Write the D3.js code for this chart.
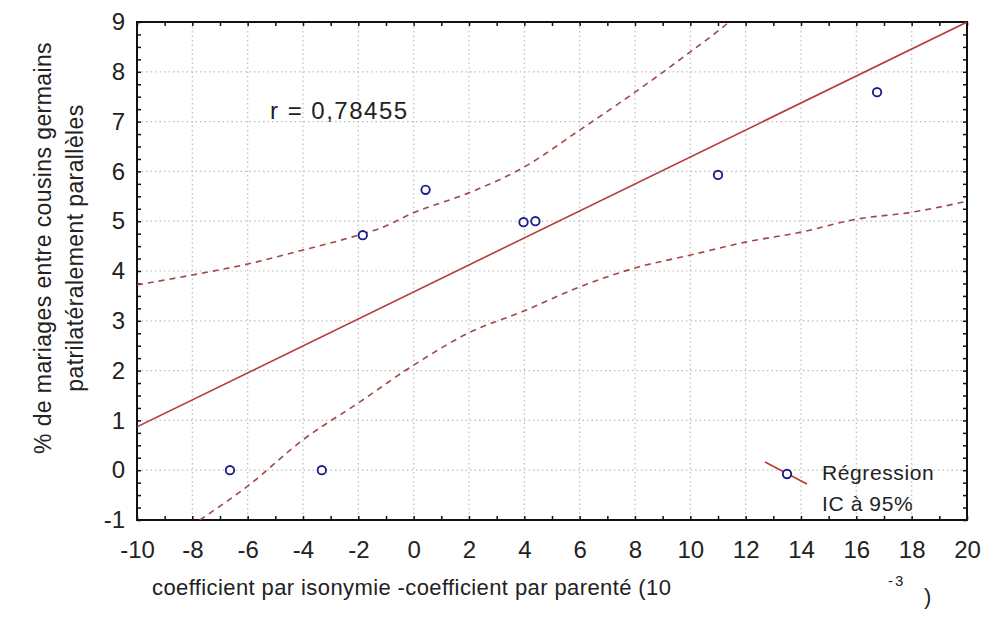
<!DOCTYPE html>
<html><head><meta charset="utf-8">
<script src="https://cdn.jsdelivr.net/npm/d3@7"></script>
<style>body{margin:0;background:#fff}svg{display:block}text{font-family:"Liberation Sans",Arial,sans-serif;fill:#222}</style>
</head><body><svg id="c" width="985" height="617"></svg>
<script>
// Data
const pointsX = [-6.64, -3.32, -1.84, 0.43, 3.97, 4.40, 11.0, 16.75];
const pointsY = [0, 0, 4.72, 5.63, 4.98, 5.00, 5.93, 7.59];
const regX = [-10, 20];
const regY = [0.87, 9.0];
const upperX = [-10, -8, -6, -4, -2, -1.2, 0, 2, 4, 6, 8, 10, 11.05, 11.4];
const upperY = [3.72, 3.92, 4.14, 4.42, 4.72, 4.86, 5.17, 5.57, 6.09, 6.83, 7.59, 8.40, 8.84, 9.0];
const lowerX = [-7.73, -6, -4, -2, 0, 2, 4, 6, 8, 10, 12, 14, 16, 18, 20];
const lowerY = [-1.0, -0.32, 0.61, 1.35, 2.11, 2.76, 3.2, 3.68, 4.06, 4.32, 4.58, 4.78, 5.04, 5.18, 5.40];
const xTicks = [-10, -8, -6, -4, -2, 0, 2, 4, 6, 8, 10, 12, 14, 16, 18, 20];
const yTicks = [-1, 0, 1, 2, 3, 4, 5, 6, 7, 8, 9];
const rLabel = "r = 0,78455";
const xTitle = "coefficient par isonymie -coefficient par parenté (10";
const xTitleExp = "-3";
const yTitle1 = "% de mariages entre cousins germains";
const yTitle2 = "patrilatéralement parallèles";
const legendLabels = ["Régression", "IC à 95%"];

const svg = d3.select("#c");
const L = 137, R = 967, T = 22, B = 520;
const x = d3.scaleLinear().domain([-10, 20]).range([L, R]);
const y = d3.scaleLinear().domain([-1, 9]).range([B, T]);

// gridlines
const grid = svg.append("g").attr("stroke", "#bdbdbd").attr("stroke-width", 1.2).attr("stroke-dasharray", "1.5,3");
grid.selectAll(".vx").data(xTicks.slice(1, -1)).join("line")
  .attr("x1", d => x(d)).attr("x2", d => x(d)).attr("y1", T).attr("y2", B);
grid.selectAll(".hy").data(yTicks.slice(1, -1)).join("line")
  .attr("y1", d => y(d)).attr("y2", d => y(d)).attr("x1", L).attr("x2", R);

// axes (ticks inside)
const minorX = d3.range(-10, 20.001, 1);
const minorY = d3.range(-1, 9.001, 0.25);
function tk(g) { g.select(".domain").remove(); g.selectAll("line").attr("stroke", "#111").attr("stroke-width", 1.5); }
svg.append("g").attr("transform", `translate(0,${B})`)
  .call(d3.axisBottom(x).tickValues(minorX).tickSize(-4).tickFormat("")).call(tk);
svg.append("g").attr("transform", `translate(0,${T})`)
  .call(d3.axisTop(x).tickValues(minorX).tickSize(-4).tickFormat("")).call(tk);
svg.append("g").attr("transform", `translate(${L},0)`)
  .call(d3.axisLeft(y).tickValues(minorY).tickSize(-4).tickFormat("")).call(tk);
svg.append("g").attr("transform", `translate(${R},0)`)
  .call(d3.axisRight(y).tickValues(minorY).tickSize(-4).tickFormat("")).call(tk);

// tick labels
const fmt = d => d3.format("d")(d).replace("−", "-");
svg.append("g").attr("transform", `translate(0,${B})`)
  .call(d3.axisBottom(x).tickValues(xTicks).tickSize(0).tickPadding(21).tickFormat(fmt))
  .call(g => g.select(".domain").remove())
  .selectAll("text").style("font-size", "24px").attr("fill", "#222");
svg.append("g").attr("transform", `translate(${L},0)`)
  .call(d3.axisLeft(y).tickValues(yTicks).tickSize(0).tickPadding(12).tickFormat(fmt))
  .call(g => g.select(".domain").remove())
  .selectAll("text").style("font-size", "24px").attr("fill", "#222");

// frame
svg.append("rect").attr("x", L).attr("y", T).attr("width", R - L).attr("height", B - T)
  .attr("fill", "none").attr("stroke", "#111").attr("stroke-width", 2);

svg.append("clipPath").attr("id", "pc").append("rect")
  .attr("x", L).attr("y", T).attr("width", R - L).attr("height", B - T);
const plot = svg.append("g").attr("clip-path", "url(#pc)");

const line = d3.line().x(d => x(d[0])).y(d => y(d[1])).curve(d3.curveMonotoneX);
plot.append("path").datum(d3.zip(upperX, upperY)).attr("d", line)
  .attr("fill", "none").attr("stroke", "#a04848").attr("stroke-width", 1.6).attr("stroke-dasharray", "6,5");
plot.append("path").datum(d3.zip(lowerX, lowerY)).attr("d", line)
  .attr("fill", "none").attr("stroke", "#a04848").attr("stroke-width", 1.6).attr("stroke-dasharray", "6,5");
plot.append("path").datum(d3.zip(regX, regY)).attr("d", d3.line().x(d => x(d[0])).y(d => y(d[1])))
  .attr("fill", "none").attr("stroke", "#b83a3a").attr("stroke-width", 1.6);

plot.selectAll("circle.pt").data(d3.zip(pointsX, pointsY)).join("circle")
  .attr("cx", d => x(d[0])).attr("cy", d => y(d[1])).attr("r", 4.2)
  .attr("fill", "#fff").attr("stroke", "#1c1c8a").attr("stroke-width", 1.9);

// r label
svg.append("text").attr("x", 270).attr("y", 119).style("font-size", "24px").style("letter-spacing", "1.5px").text(rLabel);

// legend
svg.append("line").attr("x1", 765).attr("y1", 462).attr("x2", 807).attr("y2", 484)
  .attr("stroke", "#b83a3a").attr("stroke-width", 1.6);
svg.append("circle").attr("cx", 787).attr("cy", 474).attr("r", 4.2)
  .attr("fill", "#fff").attr("stroke", "#1c1c8a").attr("stroke-width", 1.9);
svg.append("text").attr("x", 822).attr("y", 480).style("font-size", "21px").style("letter-spacing", "0.6px").text(legendLabels[0]);
svg.append("text").attr("x", 822).attr("y", 511).style("font-size", "21px").style("letter-spacing", "0.6px").text(legendLabels[1]);

// axis titles
svg.append("text").attr("x", 152).attr("y", 595).style("font-size", "22px").style("letter-spacing", "0.4px").text(xTitle);
svg.append("text").attr("x", 888).attr("y", 586).style("font-size", "15px").style("letter-spacing", "2px").text(xTitleExp);
svg.append("text").attr("x", 924).attr("y", 604).style("font-size", "22px").text(")");
svg.append("text").attr("transform", "translate(51,248) rotate(-90)").attr("text-anchor", "middle")
  .style("font-size", "23px").style("letter-spacing", "0.4px").text(yTitle1);
svg.append("text").attr("transform", "translate(83,248) rotate(-90)").attr("text-anchor", "middle")
  .style("font-size", "23px").style("letter-spacing", "0.4px").text(yTitle2);
</script></body></html>
